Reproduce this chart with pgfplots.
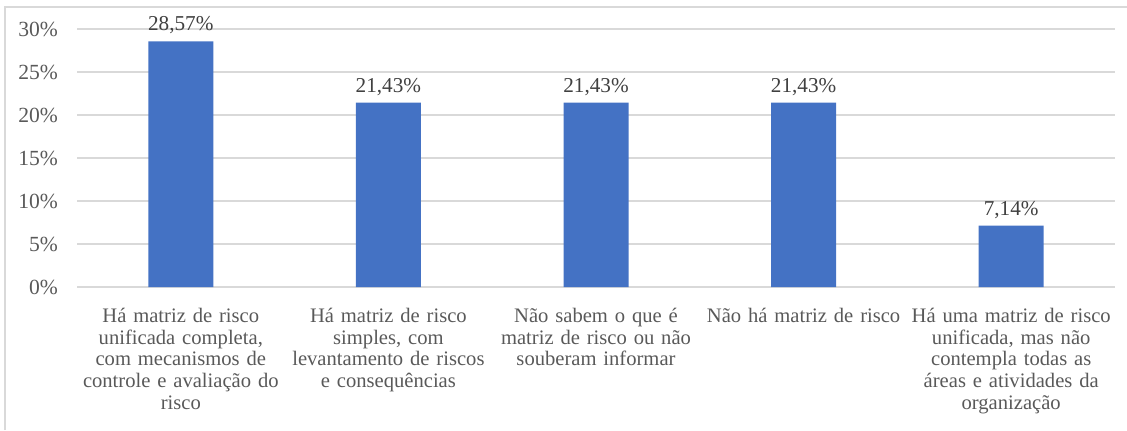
\documentclass[border=0pt]{standalone}
\usepackage{fontspec}
\setmainfont{Liberation Serif}
\usepackage{pgfplots}
\pgfplotsset{compat=1.18}
\definecolor{barblue}{HTML}{4472C4}
\definecolor{gridgray}{HTML}{D9D9D9}
\definecolor{labgray}{HTML}{595959}
\definecolor{datagray}{HTML}{404040}
\begin{document}
\begin{tikzpicture}[x=0.5pt,y=0.5pt]
\useasboundingbox (0,0) rectangle (1127,430);
\draw[gridgray, line width=0.8pt] (5,0) -- (5,423) -- (1127,423);
\begin{axis}[
    at={(38.5pt,71.5pt)}, anchor=south west,
    scale only axis,
    width=519pt, height=129pt,
    ybar, bar width=32.5pt,
    xmin=-0.5, xmax=4.5,
    ymin=0, ymax=30,
    ytick={0,5,...,30},
    yticklabels={0\%,5\%,10\%,15\%,20\%,25\%,30\%},
    xtick={0,1,2,3,4},
    xticklabels={
        {Há matriz de risco\\unificada completa,\\com mecanismos de\\controle e avaliação do\\risco},
        {Há matriz de risco\\simples, com\\levantamento de riscos\\e consequências},
        {Não sabem o que é\\matriz de risco ou não\\souberam informar},
        {Não há matriz de risco},
        {Há uma matriz de risco\\unificada, mas não\\contempla todas as\\áreas e atividades da\\organização}},
    ymajorgrids,
    grid style={gridgray, line width=0.6pt},
    axis line style={draw=none},
    tick style={draw=none},
    major tick length=0pt,
    font=\fontsize{10.3}{10.9}\selectfont,
    xticklabel style={text width=110pt, align=center, anchor=north, text=labgray, yshift=-7pt},
    yticklabel style={text=labgray, xshift=-6pt, font=\fontsize{10.8}{12}\selectfont},
    /pgf/number format/assume math mode=true,
    nodes near coords={\pgfmathprintnumber[fixed,fixed zerofill,precision=2,use comma]{\pgfplotspointmeta}\%},
    nodes near coords style={text=datagray, anchor=south, font=\fontsize{10.6}{12}\selectfont},
]
\addplot[fill=barblue, draw=none] coordinates {(0,28.57) (1,21.43) (2,21.43) (3,21.43) (4,7.14)};
\end{axis}
\end{tikzpicture}
\end{document}
